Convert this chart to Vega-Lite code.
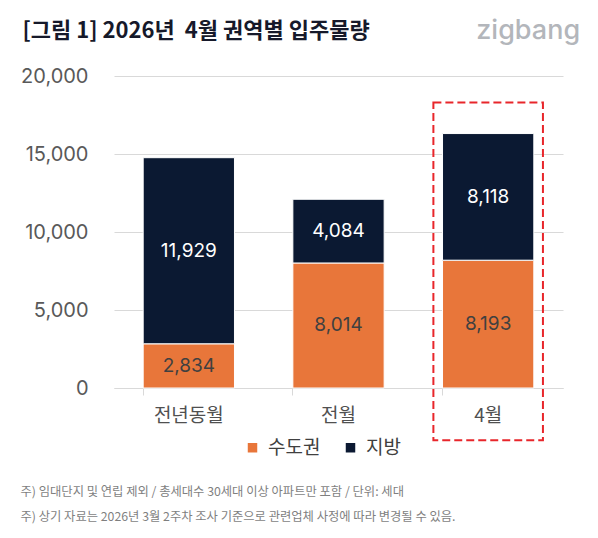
{
  "$schema": "https://vega.github.io/schema/vega-lite/v6.json",
  "autosize": {"type": "none"},
  "padding": {"left": 114, "top": 76, "right": 35, "bottom": 150},
  "width": 449,
  "height": 312,
  "background": "#ffffff",
  "config": {
    "view": {"stroke": null},
    "font": "Noto Sans CJK KR",
    "text": {"font": "Inter, Noto Sans CJK KR"}
  },
  "datasets": {
    "supply": [
      {"period": "전년동월", "region": "수도권", "value": 2834},
      {"period": "전년동월", "region": "지방", "value": 11929},
      {"period": "전월", "region": "수도권", "value": 8014},
      {"period": "전월", "region": "지방", "value": 4084},
      {"period": "4월", "region": "수도권", "value": 8193},
      {"period": "4월", "region": "지방", "value": 8118}
    ],
    "highlight": [{"period": "4월", "value": 18300, "bottom": -3350}],
    "logo": [{"period": "4월", "label": "zigbang", "value": 23000}]
  },
  "encoding": {
    "x": {
      "field": "period",
      "type": "nominal",
      "scale": {"domain": ["전년동월", "전월", "4월"], "paddingInner": 0.39, "paddingOuter": 0.195},
      "axis": {
        "title": [
          "주) 임대단지 및 연립 제외 / 총세대수 30세대 이상 아파트만 포함 / 단위: 세대",
          "주) 상기 자료는 2026년 3월 2주차 조사 기준으로 관련업체 사정에 따라 변경될 수 있음."
        ],
        "titleX": -94,
        "titleY": 97,
        "titleAlign": "left",
        "titleBaseline": "top",
        "titleAngle": 0,
        "titleFontSize": 12.3,
        "titleFontWeight": "normal",
        "titleColor": "#7f7f7f",
        "titleLineHeight": 25,
        "labelAngle": 0,
        "labelFontSize": 19,
        "labelColor": "#505050",
        "labelPadding": 11,
        "bandPosition": 0,
        "tickSize": 7,
        "tickColor": "#d9d9d9",
        "domainColor": "#d9d9d9",
        "grid": false
      }
    },
    "y": {
      "field": "value",
      "type": "quantitative",
      "stack": "zero",
      "scale": {"domain": [0, 20000], "nice": false},
      "axis": {
        "values": [0, 5000, 10000, 15000, 20000],
        "format": ",d",
        "title": "[그림 1] 2026년\u00a0 4월 권역별 입주물량",
        "titleAngle": 0,
        "titleX": -92,
        "titleY": -46,
        "titleAlign": "left",
        "titleBaseline": "middle",
        "titleFontSize": 22,
        "titleFontWeight": "bold",
        "titleColor": "#16192a",
        "labelFont": "Inter",
        "labelFontSize": 20,
        "labelColor": "#595959",
        "labelPadding": 26,
        "ticks": false,
        "domain": false,
        "gridColor": "#d9d9d9"
      }
    }
  },
  "layer": [
    {
      "data": {"name": "highlight"},
      "mark": {"type": "bar", "filled": false, "stroke": "#e8262b", "strokeWidth": 2, "strokeDash": [8, 4], "width": {"band": 1.2}},
      "encoding": {
        "y2": {"field": "bottom"}
      }
    },
    {
      "data": {"name": "supply"},
      "mark": {"type": "bar", "stroke": "#ffffff", "strokeWidth": 1},
      "encoding": {
        "color": {
          "field": "region",
          "type": "nominal",
          "scale": {"domain": ["수도권", "지방"], "range": ["#e8763a", "#0b1932"]},
          "legend": {
            "title": null,
            "orient": "none",
            "direction": "horizontal",
            "legendX": 129,
            "legendY": 362,
            "symbolType": "square",
            "symbolSize": 90,
            "symbolStrokeWidth": 0,
            "labelFontSize": 19,
            "labelColor": "#404040",
            "labelOffset": 6,
            "columnPadding": 20
          }
        },
        "order": {"field": "region", "sort": "ascending"}
      }
    },
    {
      "data": {"name": "supply"},
      "mark": {"type": "text", "fontSize": 19, "baseline": "middle"},
      "encoding": {
        "y": {"field": "value", "type": "quantitative", "stack": "zero", "bandPosition": 0.5},
        "detail": {"field": "region"},
        "order": {"field": "region", "sort": "ascending"},
        "text": {"field": "value", "type": "quantitative", "format": ","},
        "color": {"condition": {"test": "datum.region === '지방'", "value": "#ffffff"}, "value": "#404040"}
      }
    },
    {
      "data": {"name": "logo"},
      "mark": {"type": "text", "fontSize": 27, "fontWeight": 500, "color": "#b3b6bb", "dx": 40, "dy": 2, "font": "Inter"},
      "encoding": {
        "text": {"field": "label"}
      }
    }
  ]
}
